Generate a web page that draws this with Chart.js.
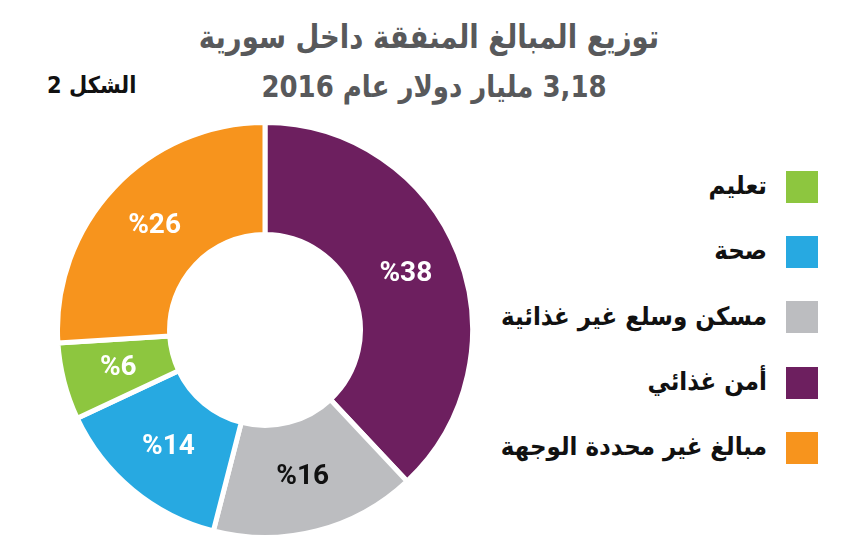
<!DOCTYPE html>
<html lang="ar">
<head>
<meta charset="utf-8">
<script src="https://cdn.jsdelivr.net/npm/chart.js@4/dist/chart.umd.min.js"></script>
<style>
  html, body { margin: 0; padding: 0; background: #fff; }
  body { width: 848px; height: 558px; position: relative; overflow: hidden; font-family: "DejaVu Sans", sans-serif; }
  .title { position: absolute; left: 0; width: 848px; text-align: center; font-weight: bold; color: #58595b; direction: rtl; transform: scaleY(1.18); }
  #t1 { top: 20px; font-size: 27.5px; padding-left: 10px; box-sizing: border-box; }
  #t2 { top: 71px; font-size: 26px; padding-left: 20px; box-sizing: border-box; }
  #fig { position: absolute; left: 47px; top: 73px; font-size: 21px; font-weight: bold; color: #111; direction: rtl; transform: scaleY(1.1); }
  #wrap { position: absolute; left: 55px; top: 120px; width: 420px; height: 420px; }
  #legend { position: absolute; right: 30px; top: 154px; direction: rtl; }
  .item { display: flex; align-items: center; height: 65.3px; }
  .box { width: 32px; height: 32px; margin-left: 19px; flex: none; }
  .lbl { font-size: 23px; font-weight: bold; color: #111; white-space: nowrap; margin-top: -3px; transform: scaleY(1.1); }
</style>
</head>
<body>
<div class="title" id="t1">توزيع المبالغ المنفقة داخل سورية</div>
<div class="title" id="t2">3,18 مليار دولار عام 2016</div>
<div id="fig">الشكل 2</div>
<div id="wrap"><canvas id="donut"></canvas></div>
<div id="legend"></div>
<script>
// order around the ring, clockwise from the top
const categories = ['أمن غذائي', 'مسكن وسلع غير غذائية', 'صحة', 'تعليم', 'مبالغ غير محددة الوجهة'];
const shares = [38, 16, 14, 6, 26];
const colors = ['#6d1f5f', '#bcbdc0', '#27a9e1', '#8dc63f', '#f7941d'];
const labelColors = ['#fff', '#111', '#fff', '#fff', '#fff'];
// legend lists them in another order
const legendOrder = [3, 2, 1, 0, 4];

const legend = document.getElementById('legend');
legendOrder.forEach(i => {
    const row = document.createElement('div');
    row.className = 'item';
    row.innerHTML = '<div class="box" style="background:' + colors[i] + '"></div><div class="lbl">' + categories[i] + '</div>';
    legend.appendChild(row);
});

const valueLabels = {
    id: 'valueLabels',
    afterDatasetsDraw(chart) {
        const ctx = chart.ctx;
        const meta = chart.getDatasetMeta(0);
        ctx.save();
        ctx.font = 'bold 28px Roboto, "Liberation Sans", sans-serif';
        ctx.textAlign = 'center';
        ctx.textBaseline = 'middle';
        meta.data.forEach((arc, i) => {
            const p = arc.tooltipPosition();
            ctx.fillStyle = labelColors[i];
            ctx.fillText('%' + shares[i], p.x, p.y);
        });
        ctx.restore();
    }
};

new Chart(document.getElementById('donut'), {
    type: 'doughnut',
    data: {
        labels: categories,
        datasets: [{
            data: shares,
            backgroundColor: colors,
            borderColor: '#fff',
            borderWidth: 5,
            hoverOffset: 0
        }]
    },
    options: {
        responsive: true,
        maintainAspectRatio: false,
        animation: false,
        cutout: '46%',
        layout: { padding: 0 },
        plugins: {
            legend: { display: false },
            tooltip: { enabled: false }
        }
    },
    plugins: [valueLabels]
});
</script>
</body>
</html>
